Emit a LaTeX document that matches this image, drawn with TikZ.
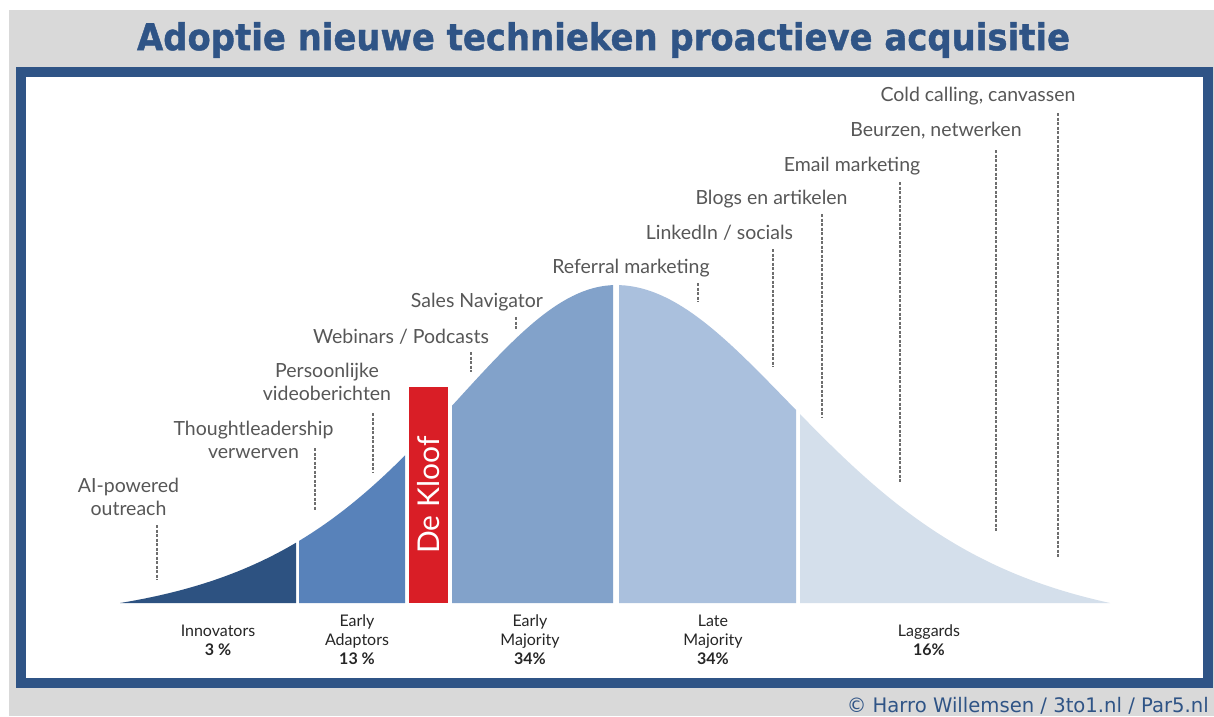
\documentclass[tikz,border=0pt]{standalone}
\usepackage{graphicx}
\usepackage{fontspec}
\setmainfont{Lato}
\newfontfamily\headfont{DejaVu Sans}
\newfontfamily\headboldfont{DejaVu Sans Bold}[FakeBold=1.2]
\usepackage{tikz}
\usetikzlibrary{positioning}
\usepackage{xcolor}

\definecolor{framegray}{HTML}{D9D9D9}
\definecolor{frameblue}{HTML}{2F5486}
\definecolor{innocol}{HTML}{2D5281}
\definecolor{adoptcol}{HTML}{5882BA}
\definecolor{earlycol}{HTML}{82A2CA}
\definecolor{latecol}{HTML}{AAC0DD}
\definecolor{laggcol}{HTML}{D4DFEB}
\definecolor{kloofred}{HTML}{D91E26}
\definecolor{labgray}{HTML}{575757}
\definecolor{leadgray}{HTML}{6E6E6E}

\begin{document}
\begin{tikzpicture}[x=1pt, y=-1pt,
    lab/.style={text=labgray, font=\fontsize{19.5}{23}\selectfont, align=center, inner sep=0pt},
    grp/.style={text=black!85, font=\fontsize{16}{19}\selectfont, align=center, inner sep=0pt},
    lead/.style={draw=leadgray, line width=1.1pt, dash pattern=on 3pt off 1.5pt},
    kloofbar/.style={fill=kloofred, text=white, rotate=90, minimum width=216pt, minimum height=39pt, inner sep=0pt, font=\fontsize{30}{32}\selectfont},
    declare function={
        sechsq(\u)=4/(exp(\u)+exp(-\u))^2;
        bellL(\x)=603-318*(sechsq((616-\x)/238)-0.0601)/0.9399;
        bellR(\x)=603-318*(sechsq((\x-616)/260)-0.0856)/0.9144;
    }
]
    \useasboundingbox (0,0) rectangle (1214,716);
    \fill[framegray] (9,10) rectangle (1214,716);
    \fill[frameblue] (16,67) rectangle (1213,688);
    \fill[white] (26,77) rectangle (1203,678);

    \node[text=frameblue, font=\headboldfont\fontsize{37}{40}\selectfont] (title) at (603.5,40) {\resizebox{933pt}{\height}{Adoptie nieuwe technieken proactieve acquisitie}};
    \node[anchor=base east, text=frameblue, font=\headfont\fontsize{20}{22}\selectfont, inner sep=0pt] (credit) at (1209,712) {\resizebox{362pt}{\height}{\textcopyright{} Harro Willemsen / 3to1.nl / Par5.nl}};

    % bell curve, cut into the five groups
    \fill[innocol] (120,603) -- plot[domain=120:296, samples=60] (\x,{bellL(\x)}) -- (296,603) -- cycle;
    \fill[adoptcol] (299,603) -- plot[domain=299:405, samples=40] (\x,{bellL(\x)}) -- (405,603) -- cycle;
    \fill[earlycol] (452,603) -- plot[domain=452:613, samples=60] (\x,{bellL(\x)}) -- (613,603) -- cycle;
    \fill[latecol] (619,603) -- plot[domain=619:796, samples=60] (\x,{bellR(\x)}) -- (796,603) -- cycle;
    \fill[laggcol] (800,603) -- plot[domain=800:1110, samples=80] (\x,{bellR(\x)}) -- (1110,603) -- cycle;

    \node[kloofbar] (kloof) at (428.5,495) {De Kloof};

    \node[lab] (ai) at (128.5,497) {AI-powered\\outreach};
    \node[lab] (thought) at (253.5,440) {Thoughtleadership\\verwerven};
    \node[lab] (video) at (327,382) {Persoonlijke\\videoberichten};
    \node[lab] (webinar) at (401,337) {Webinars / Podcasts};
    \node[lab] (sales) at (477,302) {Sales Navigator};
    \node[lab] (referral) at (631,268) {Referral marketing};
    \node[lab] (linkedin) at (719.5,233) {LinkedIn / socials};
    \node[lab] (blogs) at (771.5,199) {Blogs en artikelen};
    \node[lab] (email) at (852,166) {Email marketing};
    \node[lab] (beurzen) at (936,131) {Beurzen, netwerken};
    \node[lab] (cold) at (978,96) {Cold calling, canvassen};

    \coordinate (ai top) at (157,525);        \coordinate (ai foot) at (157,580);
    \coordinate (thought top) at (315,448);   \coordinate (thought foot) at (315,510);
    \coordinate (video top) at (373,413);     \coordinate (video foot) at (373,472);
    \coordinate (webinar top) at (471,352);   \coordinate (webinar foot) at (471,372);
    \coordinate (sales top) at (516,317);     \coordinate (sales foot) at (516,329);
    \coordinate (referral top) at (698,283);  \coordinate (referral foot) at (698,302);
    \coordinate (linkedin top) at (773,249);  \coordinate (linkedin foot) at (773,367);
    \coordinate (blogs top) at (822,214);     \coordinate (blogs foot) at (822,417);
    \coordinate (email top) at (900,182);     \coordinate (email foot) at (900,483);
    \coordinate (beurzen top) at (996,150);   \coordinate (beurzen foot) at (996,531);
    \coordinate (cold top) at (1058,113);     \coordinate (cold foot) at (1058,558);

    \draw[lead] (ai top) -- (ai foot);
    \draw[lead] (thought top) -- (thought foot);
    \draw[lead] (video top) -- (video foot);
    \draw[lead] (webinar top) -- (webinar foot);
    \draw[lead] (sales top) -- (sales foot);
    \draw[lead] (referral top) -- (referral foot);
    \draw[lead] (linkedin top) -- (linkedin foot);
    \draw[lead] (blogs top) -- (blogs foot);
    \draw[lead] (email top) -- (email foot);
    \draw[lead] (beurzen top) -- (beurzen foot);
    \draw[lead] (cold top) -- (cold foot);

    \node[grp] (innov) at (218,640.5) {Innovators\\\textbf{3 \%}};
    \node[grp] (adopt) at (357,640) {Early\\Adaptors\\\textbf{13 \%}};
    \node[grp] (earlymaj) at (530,640) {Early\\Majority\\\textbf{34\%}};
    \node[grp] (latemaj) at (713,640) {Late\\Majority\\\textbf{34\%}};
    \node[grp] (lagg) at (929,640.5) {Laggards\\\textbf{16\%}};
\end{tikzpicture}
\end{document}
